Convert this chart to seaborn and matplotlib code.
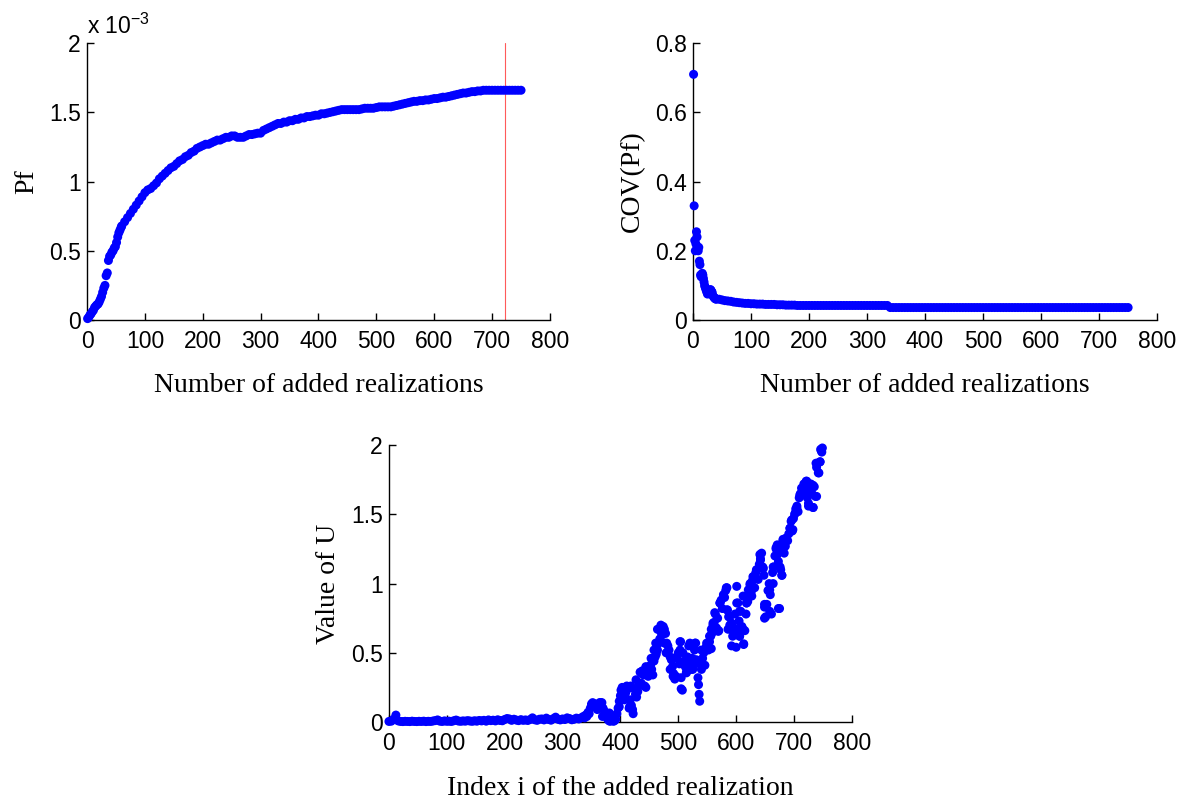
import numpy as np
import matplotlib
matplotlib.use("Agg")
import matplotlib.pyplot as plt
from matplotlib.ticker import FuncFormatter, MultipleLocator
import seaborn as sns

# ---------------- data ----------------
# Failure probability estimate vs. number of added realizations (values in units of 1e-3)
pf_n = np.r_[np.arange(1, 60, 2), np.arange(60, 751, 5)]
pf_x1e3 = [
    0.01, 0.02, 0.035, 0.045, 0.06, 0.07, 0.09, 0.10, 0.11, 0.115,
    0.13, 0.15, 0.17, 0.20, 0.23, 0.25, 0.32, 0.34, 0.43, 0.46,
    0.47, 0.49, 0.50, 0.52, 0.53, 0.56, 0.60, 0.63, 0.65, 0.67,
    0.68, 0.71, 0.74, 0.77, 0.80, 0.83, 0.86, 0.89, 0.92, 0.94,
    0.95, 0.97, 0.99, 1.02, 1.04, 1.06, 1.08, 1.10, 1.11, 1.13,
    1.15, 1.16, 1.18, 1.19, 1.21, 1.22, 1.24, 1.25, 1.26, 1.27,
    1.27, 1.28, 1.29, 1.30, 1.30, 1.31, 1.32, 1.32, 1.33, 1.33,
    1.32, 1.32, 1.32, 1.33, 1.34, 1.34, 1.345, 1.35, 1.35, 1.37,
    1.38, 1.39, 1.40, 1.41, 1.42, 1.42, 1.43, 1.43, 1.44, 1.44,
    1.45, 1.45, 1.46, 1.46, 1.47, 1.47, 1.475, 1.48, 1.48, 1.49,
    1.49, 1.495, 1.50, 1.505, 1.51, 1.515, 1.52, 1.52, 1.52, 1.52,
    1.52, 1.52, 1.52, 1.525, 1.53, 1.53, 1.53, 1.53, 1.535, 1.54,
    1.54, 1.54, 1.54, 1.54, 1.545, 1.55, 1.555, 1.56, 1.565, 1.57,
    1.575, 1.58, 1.58, 1.585, 1.585, 1.59, 1.59, 1.595, 1.60, 1.60,
    1.605, 1.61, 1.61, 1.615, 1.62, 1.625, 1.63, 1.635, 1.64, 1.64,
    1.645, 1.65, 1.65, 1.655, 1.655, 1.66, 1.66, 1.66, 1.66, 1.66,
    1.66, 1.66, 1.66, 1.66, 1.66, 1.66, 1.66, 1.66, 1.66,
]
pf = np.array(pf_x1e3) * 1e-3
stop_n = 723  # realization count where the stopping criterion is met

# Coefficient of variation of the Pf estimate
cov_n = np.r_[np.arange(1, 41), np.arange(45, 751, 5)]
cov_pf = [
    0.71, 0.33, 0.23, 0.20, 0.22, 0.255, 0.24, 0.21, 0.20, 0.21,
    0.17, 0.16, 0.13, 0.125, 0.13, 0.135, 0.13, 0.12, 0.11, 0.10,
    0.095, 0.09, 0.085, 0.08, 0.075, 0.08, 0.078, 0.076, 0.085, 0.088,
    0.086, 0.082, 0.08, 0.072, 0.068, 0.066, 0.064, 0.062, 0.061, 0.06,
    0.06, 0.058, 0.056, 0.055, 0.054, 0.052, 0.051, 0.05, 0.049, 0.048,
    0.048, 0.047, 0.047, 0.046, 0.046, 0.046, 0.045, 0.045, 0.045, 0.045,
    0.044, 0.044, 0.044, 0.043, 0.043, 0.043, 0.043, 0.042, 0.042, 0.042,
    0.042, 0.042, 0.042, 0.042, 0.042, 0.042, 0.042, 0.042, 0.042, 0.042,
    0.042, 0.042, 0.042, 0.042, 0.042, 0.042, 0.042, 0.042, 0.042, 0.042,
    0.042, 0.042, 0.042, 0.042, 0.042, 0.042, 0.042, 0.042, 0.042, 0.036,
    0.036, 0.036, 0.036, 0.036, 0.036, 0.036, 0.036, 0.036, 0.036, 0.036,
    0.036, 0.036, 0.036, 0.036, 0.036, 0.036, 0.036, 0.036, 0.036, 0.036,
    0.036, 0.036, 0.036, 0.036, 0.036, 0.036, 0.036, 0.036, 0.036, 0.036,
    0.036, 0.036, 0.036, 0.036, 0.036, 0.036, 0.036, 0.036, 0.036, 0.036,
    0.036, 0.036, 0.036, 0.036, 0.036, 0.036, 0.036, 0.036, 0.036, 0.036,
    0.036, 0.036, 0.036, 0.036, 0.036, 0.036, 0.036, 0.036, 0.036, 0.036,
    0.036, 0.036, 0.036, 0.036, 0.036, 0.036, 0.036, 0.036, 0.036, 0.036,
    0.036, 0.036, 0.036, 0.036, 0.036, 0.036, 0.036, 0.036, 0.036, 0.036,
    0.036, 0.036,
]

# U learning-function value of each added realization
u_index = [
    0, 4, 8, 12, 16, 20, 24, 28, 32, 36, 40, 44, 48, 52, 56, 60, 64, 68, 72, 76,
    80, 84, 88, 92, 96, 100, 104, 108, 112, 116, 120, 124, 128, 132, 136, 140,
    144, 148, 152, 156, 160, 164, 168, 172, 176, 180, 184, 188, 192, 196, 200,
    204, 208, 212, 216, 220, 224, 228, 232, 236, 240, 244, 248, 252, 256, 260,
    264, 268, 272, 276, 280, 284, 288, 292, 296, 300, 304, 308, 312, 316, 320,
    324, 328, 332, 336,
    338, 340, 342, 344, 346, 348, 350, 352, 354, 356, 358, 360, 362, 364, 366,
    368, 370, 372, 374, 376, 378, 380, 382, 384, 386, 388, 390, 392, 394, 396,
    398, 400, 401, 403, 405, 407, 409, 411, 413, 415, 417, 419, 421, 422, 424,
    426, 428, 430, 432, 434, 436, 438, 440, 442, 444, 446, 448, 450, 452, 454,
    456, 458, 460, 462, 464, 466, 468, 470, 472, 474, 476, 478, 480, 482, 484,
    486, 488, 490, 492, 494, 496, 498, 500, 502, 504, 505, 507, 508, 510, 512,
    514, 516, 518, 520, 522, 524, 526, 528, 530, 532, 534, 535, 536, 537, 538,
    540, 542, 544, 546, 548, 550, 552, 554, 556, 558, 560, 562, 564, 566, 568,
    570, 572, 574, 576, 578, 580, 582, 584, 585, 587, 589, 591, 592, 594, 596,
    598, 600, 601, 603, 605, 606, 608, 610, 612, 613, 615, 617, 618, 620, 622,
    624, 626, 628, 630, 632, 634, 636, 638, 640, 642, 644, 646, 648, 649, 651,
    653, 655, 657, 659, 661, 663, 665, 667, 669, 671, 673, 675, 677, 679, 681,
    683, 685, 687, 689, 691, 693, 695, 697, 699, 701, 703, 705, 707, 709, 711,
    713, 715, 717, 719, 721, 723, 725, 727, 729, 731, 733, 735, 737, 739, 741,
    743, 745, 747, 749,
    491, 486, 489, 497, 503, 503, 520, 529, 509, 479,
    476, 473, 470, 464, 461, 458, 453, 444, 436, 427,
    418, 407, 404, 416, 398, 381, 387, 369, 366, 531,
    537, 525, 514, 505, 540, 557, 549, 554, 569, 557,
    560, 563, 572, 578, 583, 584, 589, 592, 586, 601,
    612, 606, 613, 601, 606, 618, 627, 621, 624, 629,
    635, 641, 642, 647, 664, 658, 649, 658, 649, 673,
    664, 676, 679, 670, 669, 676, 678, 681, 687, 693,
    698, 696, 702, 705, 710, 716, 722, 728, 733, 739,
    725, 733, 742, 745, 738, 746, 748,
]
u_value = [
    0.004, 0.006, 0.02, 0.05, 0.008, 0.004, 0.003, 0.005, 0.004, 0.003, 0.006,
    0.004, 0.003, 0.005, 0.004, 0.006, 0.003, 0.005, 0.004, 0.007, 0.01, 0.015,
    0.006, 0.004, 0.008, 0.005, 0.006, 0.004, 0.009, 0.014, 0.007, 0.005, 0.008,
    0.006, 0.01, 0.007, 0.005, 0.009, 0.006, 0.011, 0.008, 0.012, 0.006, 0.015,
    0.01, 0.013, 0.008, 0.016, 0.011, 0.009, 0.018, 0.025, 0.022, 0.012, 0.02,
    0.014, 0.01, 0.017, 0.012, 0.015, 0.011, 0.018, 0.03, 0.016, 0.012, 0.02,
    0.022, 0.015, 0.028, 0.018, 0.013, 0.024, 0.035, 0.02, 0.015, 0.022, 0.018,
    0.03, 0.025, 0.016, 0.02, 0.028, 0.022, 0.03, 0.04,
    0.03, 0.05, 0.04, 0.07, 0.06, 0.10, 0.13, 0.14, 0.12, 0.13, 0.11, 0.09,
    0.13, 0.14, 0.12, 0.14, 0.10, 0.08, 0.05, 0.04, 0.02, 0.01, 0.005, 0.02,
    0.04, 0.005, 0.01, 0.02, 0.06, 0.10, 0.15, 0.19, 0.23, 0.25, 0.20, 0.16,
    0.21, 0.26, 0.24, 0.10, 0.16, 0.12, 0.09, 0.06, 0.24, 0.20, 0.18, 0.22,
    0.26, 0.36, 0.28, 0.37, 0.34, 0.26, 0.25, 0.36, 0.33, 0.40, 0.41, 0.38,
    0.34, 0.44, 0.47, 0.49, 0.52, 0.57, 0.60, 0.65, 0.63, 0.69, 0.67, 0.64,
    0.57, 0.55, 0.52, 0.47, 0.45, 0.40, 0.35, 0.31, 0.33, 0.46, 0.50, 0.42,
    0.58, 0.24, 0.23, 0.50, 0.44, 0.40, 0.36, 0.47, 0.55, 0.43, 0.38, 0.46,
    0.40, 0.52, 0.57, 0.44, 0.32, 0.27, 0.20, 0.15, 0.42, 0.38, 0.46, 0.50,
    0.41, 0.54, 0.56, 0.52, 0.58, 0.62, 0.64, 0.70, 0.72, 0.78, 0.68, 0.75,
    0.66, 0.86, 0.88, 0.82, 0.92, 0.90, 0.95, 0.97, 0.81, 0.76, 0.70, 0.67,
    0.55, 0.62, 0.68, 0.78, 0.54, 0.98, 0.86, 0.73, 0.62, 0.80, 0.69, 0.91,
    0.56, 0.66, 0.78, 0.86, 0.87, 0.92, 0.99, 0.94, 1.02, 1.05, 0.97, 1.08,
    1.10, 1.03, 1.14, 1.18, 1.22, 1.12, 1.06, 0.83, 0.76, 0.85, 0.95, 1.00,
    0.92, 0.78, 1.08, 1.12, 1.20, 1.25, 1.28, 1.16, 0.82, 1.10, 1.06, 1.31,
    1.22, 1.27, 1.33, 1.31, 1.36, 1.40, 1.45, 1.38, 1.47, 1.50, 1.54, 1.56,
    1.52, 1.62, 1.65, 1.69, 1.66, 1.72, 1.70, 1.74, 1.62, 1.58, 1.67, 1.72,
    1.65, 1.55, 1.70, 1.63, 1.84, 1.87, 1.80, 1.88, 1.96, 1.98,
    0.33, 0.38, 0.45, 0.47, 0.52, 0.58, 0.57, 0.57, 0.425, 0.50,
    0.57, 0.64, 0.70, 0.67, 0.57, 0.52, 0.46, 0.40, 0.355, 0.305,
    0.26, 0.245, 0.185, 0.11, 0.11, 0.065, 0.017, 0.04, 0.14, 0.45,
    0.425, 0.38, 0.355, 0.32, 0.52, 0.53, 0.57, 0.62, 0.655, 0.67,
    0.715, 0.79, 0.86, 0.91, 0.97, 0.81, 0.76, 0.715, 0.67, 0.67,
    0.67, 0.62, 0.565, 0.86, 0.80, 0.86, 0.91, 0.955, 1.00, 1.05,
    1.10, 1.21, 1.17, 1.11, 1.00, 0.955, 0.85, 0.80, 0.75, 0.82,
    1.12, 1.12, 1.06, 1.20, 1.26, 1.245, 1.28, 1.32, 1.33, 1.40,
    1.39, 1.46, 1.51, 1.545, 1.64, 1.69, 1.74, 1.68, 1.71, 1.63,
    1.56, 1.55, 1.80, 1.88, 1.87, 1.97, 1.95,
]

# ---------------- style ----------------
sns.set_style("white")
plt.rcParams["font.family"] = ["Liberation Sans", "DejaVu Sans"]
plt.rcParams["mathtext.fontset"] = "custom"
plt.rcParams["mathtext.rm"] = "Liberation Sans"
plt.rcParams["text.color"] = "black"

TICK_FS = 16.5
LABEL_FONT = {"family": "Liberation Serif", "size": 20, "color": "black"}
BLUE = "#0000ff"
MARKER_S = 42

fig = plt.figure(figsize=(11.84, 8.0), dpi=100)
fig.patch.set_facecolor("white")

ax_pf = fig.add_axes([0.0735, 0.600, 0.391, 0.346])
ax_cov = fig.add_axes([0.5853, 0.600, 0.392, 0.346])
ax_u = fig.add_axes([0.3285, 0.0975, 0.391, 0.346])


def style_axis(ax, ymax, ystep):
    ax.set_xlim(0, 800)
    ax.set_ylim(0, ymax)
    ax.xaxis.set_major_locator(MultipleLocator(100))
    ax.yaxis.set_major_locator(MultipleLocator(ystep))
    for side in ("top", "right"):
        ax.spines[side].set_visible(False)
    for side in ("left", "bottom"):
        ax.spines[side].set_color("black")
        ax.spines[side].set_linewidth(1.0)
    ax.tick_params(axis="both", which="major", direction="in", length=5,
                   width=1, color="black", labelsize=TICK_FS,
                   labelcolor="black", bottom=True, left=True,
                   top=False, right=False)
    ax.tick_params(axis="x", pad=7.5)
    ax.tick_params(axis="y", pad=4.5)
    ax.set_facecolor("white")
    ax.grid(False)


fmt_plain = FuncFormatter(lambda v, _: f"{v:g}")

# Pf
sns.scatterplot(x=pf_n, y=pf, ax=ax_pf, color=BLUE, s=MARKER_S,
                edgecolor="none", linewidth=0, clip_on=False, zorder=3)
ax_pf.axvline(stop_n, color="#ff5a5a", lw=0.8, zorder=2)
style_axis(ax_pf, 2e-3, 0.5e-3)
ax_pf.yaxis.set_major_formatter(FuncFormatter(lambda v, _: f"{v * 1e3:g}"))
ax_pf.xaxis.set_major_formatter(fmt_plain)
ax_pf.text(0.0, 1.015, r"x 10$^{\mathregular{-3}}$", transform=ax_pf.transAxes,
           fontsize=TICK_FS, ha="left", va="bottom", color="black")
ax_pf.set_xlabel("Number of added realizations", fontdict=LABEL_FONT, labelpad=14)
ax_pf.set_ylabel("Pf", fontdict=LABEL_FONT, labelpad=7)

# COV(Pf)
sns.scatterplot(x=cov_n, y=cov_pf, ax=ax_cov, color=BLUE, s=MARKER_S,
                edgecolor="none", linewidth=0, clip_on=False, zorder=3)
style_axis(ax_cov, 0.8, 0.2)
ax_cov.xaxis.set_major_formatter(fmt_plain)
ax_cov.yaxis.set_major_formatter(fmt_plain)
ax_cov.set_xlabel("Number of added realizations", fontdict=LABEL_FONT, labelpad=14)
ax_cov.set_ylabel("COV(Pf)", fontdict=LABEL_FONT, labelpad=7)

# U values
sns.scatterplot(x=u_index, y=u_value, ax=ax_u, color=BLUE, s=MARKER_S,
                edgecolor="none", linewidth=0, clip_on=False, zorder=3)
style_axis(ax_u, 2, 0.5)
ax_u.xaxis.set_major_formatter(fmt_plain)
ax_u.yaxis.set_major_formatter(fmt_plain)
ax_u.set_xlabel("Index i of the added realization", fontdict=LABEL_FONT, labelpad=15)
ax_u.set_ylabel("Value of U", fontdict=LABEL_FONT, labelpad=7)

fig.savefig("out.png", dpi=100, facecolor="white")
